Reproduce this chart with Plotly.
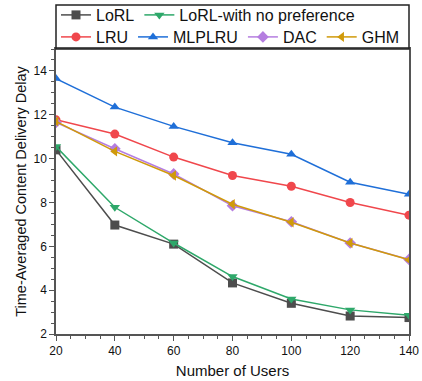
import plotly.graph_objects as go

users = [20, 40, 60, 80, 100, 120, 140]
lorl = [10.4, 6.97, 6.1, 4.33, 3.4, 2.82, 2.75]
lorl_np = [10.55, 7.78, 6.15, 4.62, 3.6, 3.1, 2.85]
lru = [11.77, 11.12, 10.07, 9.23, 8.74, 8.0, 7.42]
mlplru = [13.65, 12.35, 11.47, 10.72, 10.2, 8.92, 8.37]
dac = [11.65, 10.45, 9.3, 7.85, 7.12, 6.15, 5.4]
ghm = [11.7, 10.33, 9.23, 7.92, 7.1, 6.15, 5.38]

series = [
    ("LoRL", lorl, "#4d4d4d", "square", "legend"),
    ("LoRL-with no preference", lorl_np, "#2ea86a", "triangle-down", "legend"),
    ("LRU", lru, "#f0474c", "circle", "legend2"),
    ("MLPLRU", mlplru, "#1f6fd8", "triangle-up", "legend2"),
    ("DAC", dac, "#b57ee0", "diamond", "legend2"),
    ("GHM", ghm, "#d09a0a", "triangle-left", "legend2"),
]

FONT = "Liberation Sans"
PLOT_H = 285.0

fig = go.Figure()
for name, ys, color, sym, leg in series:
    fig.add_trace(go.Scatter(
        x=users, y=ys, name=name, mode="lines+markers", legend=leg,
        line=dict(color=color, width=1.5),
        marker=dict(symbol=sym, size=9, color=color),
    ))

axis_common = dict(
    showline=True, linecolor="#555", linewidth=1.5, mirror=True,
    ticks="outside", ticklen=5, tickwidth=1, tickcolor="#555",
    showgrid=False, zeroline=False,
    tickfont=dict(family=FONT, size=12, color="#111"),
    minor=dict(ticks="outside", ticklen=3, tickcolor="#555"),
)

leg_common = dict(orientation="h", x=0, xanchor="left", yanchor="middle",
                  bgcolor="rgba(0,0,0,0)", borderwidth=0,
                  font=dict(size=16, family=FONT, color="#111"),
                  itemwidth=30, tracegroupgap=0)

fig.update_layout(
    width=422, height=381,
    margin=dict(l=56, r=13, t=49, b=47, autoexpand=False),
    paper_bgcolor="white", plot_bgcolor="white",
    font=dict(family=FONT, color="#111"),
    xaxis=dict(range=[20, 140], dtick=20, tick0=20,
               title=dict(text="Number of Users", font=dict(size=15), standoff=8),
               **axis_common),
    yaxis=dict(range=[2, 15], dtick=2, tick0=2,
               title=dict(text="Time-Averaged Content Delivery Delay", font=dict(size=14.5), standoff=3),
               **axis_common),
    legend=dict(y=1 + 34 / PLOT_H, **leg_common),
    legend2=dict(y=1 + 12 / PLOT_H, **leg_common),
    shapes=[dict(type="rect", xref="paper", yref="paper",
                 x0=0, x1=1, y0=1, y1=1 + 44 / PLOT_H,
                 line=dict(color="#222", width=1.5), fillcolor="rgba(0,0,0,0)")],
)

fig.write_html("out.html",
               config={"displayModeBar": False},
               post_script="document.body.style.margin='0';document.body.style.overflow='hidden';")
